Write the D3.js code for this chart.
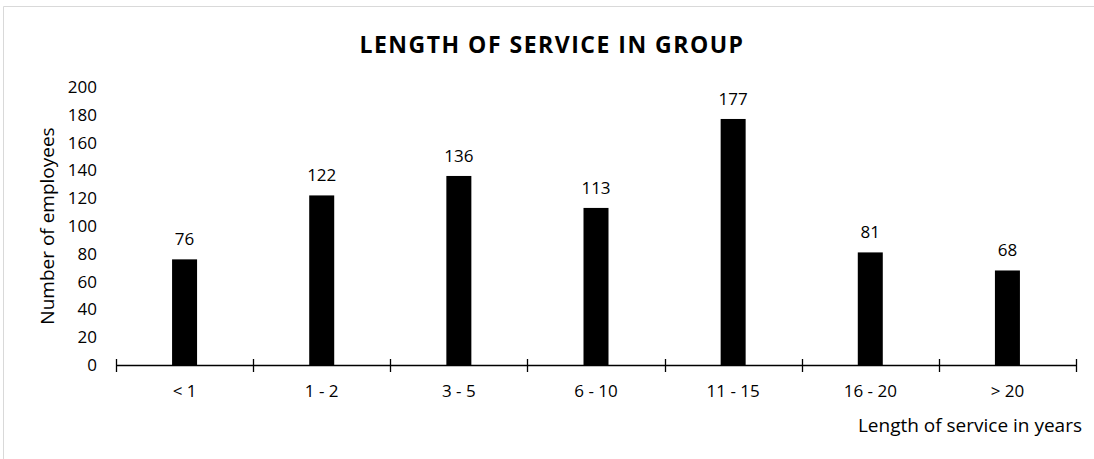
<!DOCTYPE html>
<html><head><meta charset="utf-8">
<script src="https://cdn.jsdelivr.net/npm/d3@7"></script>
<style>body{margin:0;background:#fff}svg{display:block;font-family:"Open Sans",sans-serif}</style>
</head><body>
<svg id="c" width="1094" height="459"></svg>
<script>
const categories = ["< 1","1 - 2","3 - 5","6 - 10","11 - 15","16 - 20","> 20"];
const values = [76,122,136,113,177,81,68];
const yTicks = [0,20,40,60,80,100,120,140,160,180,200];
const title = "LENGTH OF SERVICE IN GROUP";
const xTitle = "Length of service in years";
const yTitle = "Number of employees";

const svg = d3.select("#c");
// outer frame
svg.append("path").attr("d","M3.5,459 V6.5 H1094").attr("fill","none").attr("stroke","#d9d9d9");

const x = d3.scaleBand().domain(categories).range([116,1076]).paddingInner(0).paddingOuter(0);
const y = d3.scaleLinear().domain([0,200]).range([365,87]);

// title
svg.append("text").attr("x",552).attr("y",53).attr("text-anchor","middle")
  .attr("font-size",23).attr("letter-spacing",1.5).attr("font-weight","bold").attr("fill","#000").text(title);

// y labels
svg.append("g").selectAll("text").data(yTicks).join("text")
  .attr("x",97).attr("y",d=>y(d)).attr("dy","0.35em").attr("text-anchor","end")
  .attr("font-size",17).attr("fill","#000").text(d=>d);

// bars
const bw = 25;
svg.append("g").selectAll("rect").data(values).join("rect")
  .attr("x",(d,i)=>x(categories[i])+x.bandwidth()/2-bw/2)
  .attr("width",bw).attr("y",d=>y(d)).attr("height",d=>y(0)-y(d)).attr("fill","#000");

// data labels
svg.append("g").selectAll("text").data(values).join("text")
  .attr("x",(d,i)=>x(categories[i])+x.bandwidth()/2).attr("y",d=>y(d)-14)
  .attr("text-anchor","middle").attr("font-size",17).attr("fill","#000").text(d=>d);

// x axis line and ticks
const ax = svg.append("g");
ax.append("line").attr("x1",116).attr("x2",1076).attr("y1",365.5).attr("y2",365.5).attr("stroke","#000").attr("stroke-width",1.3);
const bounds = categories.map(c=>x(c)).concat([x(categories[categories.length-1])+x.bandwidth()]);
ax.selectAll(".t").data(bounds).join("line")
  .attr("x1",d=>Math.round(d)+0.5).attr("x2",d=>Math.round(d)+0.5).attr("y1",359).attr("y2",372)
  .attr("stroke","#000").attr("stroke-width",1.3);
ax.selectAll("text").data(categories).join("text")
  .attr("x",d=>x(d)+x.bandwidth()/2).attr("y",397).attr("text-anchor","middle")
  .attr("font-size",17).attr("fill","#000").text(d=>d);

// axis titles
svg.append("text").attr("x",1082).attr("y",432).attr("text-anchor","end")
  .attr("font-size",19).attr("fill","#000").text(xTitle);
svg.append("text").attr("transform","translate(54,226) rotate(-90)").attr("text-anchor","middle")
  .attr("font-size",19).attr("fill","#000").text(yTitle);
</script>
</body></html>
